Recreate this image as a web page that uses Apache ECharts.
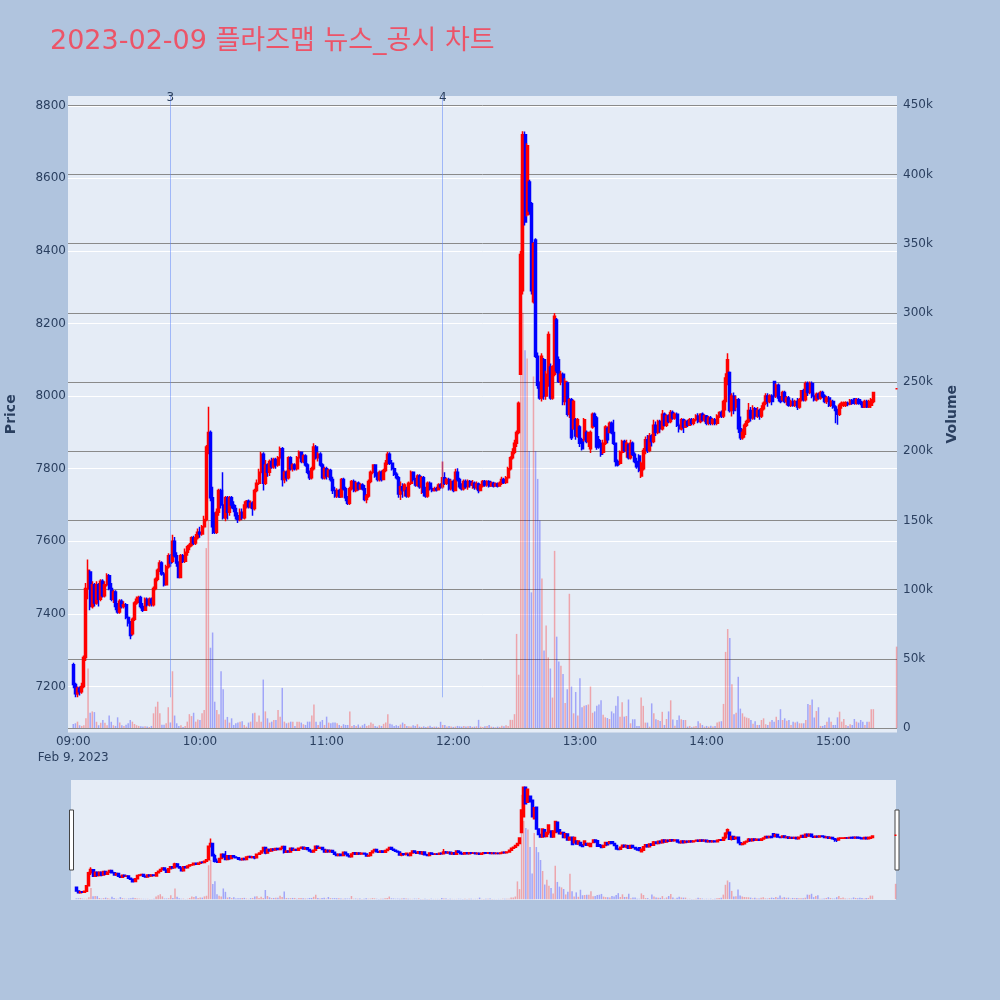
<!DOCTYPE html>
<html><head><meta charset="utf-8">
<script src="https://cdn.jsdelivr.net/npm/echarts@6/dist/echarts.min.js"></script>
<style>html,body{margin:0;padding:0;background:#B0C4DE}#c{width:1000px;height:1000px}</style>
</head><body><div id="c"></div><script>
const chartTitle = '2023-02-09 플라즈맵 뉴스_공시 차트';
const dateLabel = 'Feb 9, 2023';
// one-minute candles 09:00..15:19 and the 15:30 closing auction
const times = [];
for (let i = 0; i < 380; i++) { const t = 540 + i; times.push(String(Math.floor(t / 60)).padStart(2, '0') + ':' + String(t % 60).padStart(2, '0')); }
times.push('15:30');

const opens = [
7260,7205,7180,7195,7185,7200,7280,7470,7515,7420,
7480,7430,7480,7440,7490,7450,7480,7505,7470,7440,
7460,7420,7405,7435,7420,7425,7390,7375,7345,7385,
7430,7440,7445,7420,7410,7440,7425,7440,7425,7470,
7495,7520,7540,7510,7480,7530,7560,7545,7600,7560,
7540,7500,7560,7545,7570,7585,7590,7610,7595,7610,
7625,7620,7640,7660,7860,7900,7720,7640,7625,7680,
7740,7700,7665,7720,7680,7720,7700,7690,7670,7660,
7680,7665,7700,7710,7695,7705,7690,7740,7760,7790,
7840,7760,7810,7790,7820,7805,7825,7810,7830,7855,
7770,7790,7775,7830,7800,7810,7800,7830,7845,7820,
7835,7810,7790,7775,7800,7860,7830,7840,7810,7775,
7800,7780,7795,7770,7740,7725,7740,7722,7770,7745,
7720,7705,7745,7765,7740,7760,7745,7755,7745,7715,
7725,7765,7790,7810,7780,7770,7790,7770,7795,7815,
7840,7815,7800,7785,7775,7730,7750,7740,7740,7725,
7760,7790,7770,7755,7780,7750,7775,7735,7725,7760,
7745,7740,7745,7742,7755,7750,7775,7760,7770,7745,
7765,7740,7790,7770,7750,7745,7765,7750,7765,7755,
7760,7748,7758,7740,7752,7765,7755,7765,7752,7760,
7752,7758,7752,7760,7770,7762,7775,7800,7830,7845,
7870,7900,8060,8290,8720,8500,8590,8530,8260,8430,
8110,8030,7995,8100,8000,8060,8080,7995,8060,8210,
8100,8040,8060,7985,8036,7950,7990,7910,7935,7890,
7915,7880,7880,7900,7875,7855,7915,7950,7940,7880,
7870,7845,7870,7910,7900,7925,7900,7870,7820,7815,
7845,7875,7850,7865,7830,7870,7840,7820,7835,7780,
7800,7850,7880,7850,7890,7875,7920,7900,7930,7910,
7950,7920,7945,7930,7955,7940,7950,7920,7910,7935,
7915,7930,7920,7935,7925,7935,7945,7930,7950,7935,
7945,7925,7940,7925,7935,7925,7945,7955,7945,7985,
8050,8065,7960,8000,7970,7990,7910,7885,7895,7920,
7930,7960,7940,7965,7945,7960,7945,7965,7980,8000,
7985,8000,8040,8000,8030,7995,7990,8010,7985,7995,
7975,7985,7975,7985,7970,7990,8015,7990,8035,8010,
8035,8000,7990,8005,7995,8010,8000,7985,7995,7975,
7985,7970,7960,7950,7975,7975,7975,7980,7978,7988,
7992,7980,7990,7985,7980,7970,7985,7970,7975,7985,
8020];
const highs = [
7265,7210,7200,7200,7210,7285,7485,7550,7520,7490,
7485,7490,7485,7495,7495,7490,7512,7510,7485,7466,
7465,7430,7440,7440,7435,7430,7395,7380,7390,7435,
7448,7450,7450,7430,7445,7445,7445,7445,7475,7500,
7525,7548,7545,7515,7535,7567,7565,7618,7612,7570,
7545,7565,7565,7580,7590,7595,7614,7615,7620,7635,
7640,7645,7670,7865,7971,7905,7750,7680,7690,7745,
7745,7790,7725,7725,7725,7725,7710,7700,7680,7690,
7690,7710,7714,7715,7712,7710,7745,7770,7800,7847,
7845,7824,7815,7825,7830,7830,7830,7835,7861,7860,
7795,7795,7834,7834,7815,7815,7835,7850,7847,7840,
7840,7815,7795,7805,7870,7865,7845,7845,7815,7805,
7805,7800,7800,7778,7750,7746,7745,7774,7775,7750,
7725,7750,7769,7770,7765,7765,7760,7760,7755,7730,
7770,7795,7812,7812,7790,7795,7795,7800,7824,7847,
7845,7824,7805,7790,7780,7765,7760,7760,7750,7765,
7795,7792,7775,7785,7785,7780,7780,7750,7765,7765,
7751,7750,7750,7760,7760,7820,7790,7775,7775,7770,
7770,7800,7801,7775,7760,7770,7770,7770,7769,7769,
7765,7765,7762,7758,7769,7769,7768,7768,7765,7764,
7762,7762,7765,7778,7775,7780,7805,7834,7856,7880,
7905,7985,8400,8730,8729,8697,8596,8535,8425,8435,
8120,8040,8118,8105,8070,8178,8090,8085,8229,8215,
8109,8070,8065,8049,8040,7995,7995,7990,7940,7940,
7920,7885,7940,7905,7902,7905,7955,7955,7945,7890,
7879,7880,7920,7916,7930,7930,7935,7872,7825,7850,
7880,7880,7880,7870,7880,7875,7845,7830,7840,7820,
7857,7889,7893,7898,7895,7935,7930,7935,7935,7962,
7955,7950,7950,7962,7960,7955,7955,7925,7940,7938,
7935,7935,7940,7940,7940,7950,7953,7953,7955,7950,
7948,7945,7945,7940,7940,7950,7958,7960,7990,8063,
8118,8068,8008,8010,8000,7995,7944,7910,7925,7935,
7981,7970,7975,7970,7970,7965,7975,7985,8008,8008,
8005,8005,8040,8035,8035,8000,8015,8015,8000,8000,
7990,7994,7990,7995,7995,8017,8020,8040,8040,8040,
8040,8010,8010,8010,8015,8015,8005,8000,8000,7990,
7990,7975,7965,7980,7985,7985,7986,7985,7992,7992,
7995,7995,7995,7992,7985,7990,7990,7990,7995,8010,
8020];
const lows = [
7195,7170,7170,7175,7180,7195,7270,7440,7410,7415,
7420,7425,7420,7435,7445,7445,7475,7465,7435,7430,
7410,7400,7400,7415,7415,7385,7365,7330,7340,7380,
7425,7430,7415,7405,7408,7420,7420,7420,7420,7465,
7490,7515,7505,7475,7478,7525,7530,7540,7555,7530,
7498,7498,7540,7540,7560,7575,7585,7590,7590,7605,
7610,7615,7635,7655,7840,7710,7620,7620,7620,7670,
7690,7660,7655,7660,7670,7690,7680,7660,7650,7655,
7660,7660,7690,7690,7690,7670,7685,7735,7755,7785,
7740,7755,7778,7780,7800,7800,7800,7805,7825,7751,
7760,7765,7770,7795,7792,7795,7795,7825,7815,7815,
7805,7785,7769,7770,7795,7825,7820,7805,7770,7770,
7770,7775,7765,7730,7720,7719,7719,7720,7740,7710,
7700,7700,7740,7735,7735,7740,7742,7740,7710,7705,
7720,7760,7785,7775,7765,7765,7765,7768,7790,7810,
7810,7795,7780,7770,7720,7714,7720,7723,7720,7720,
7755,7765,7750,7750,7745,7730,7723,7720,7720,7740,
7735,7737,7737,7740,7745,7745,7755,7755,7740,7740,
7735,7738,7765,7745,7740,7740,7745,7742,7748,7745,
7742,7742,7732,7738,7748,7750,7750,7748,7750,7748,
7750,7748,7750,7755,7758,7758,7770,7795,7825,7840,
7860,7895,8060,8280,8470,8495,8500,8280,8255,8105,
8020,7990,7985,7990,7990,8026,7990,7990,8055,8063,
8036,8030,7975,7975,7944,7940,7879,7907,7880,7885,
7860,7850,7875,7870,7860,7843,7910,7915,7852,7855,
7833,7840,7865,7870,7898,7895,7865,7806,7806,7810,
7840,7845,7830,7825,7825,7835,7815,7800,7790,7774,
7795,7840,7843,7845,7861,7870,7890,7895,7900,7905,
7916,7915,7925,7925,7935,7935,7915,7900,7905,7898,
7912,7915,7918,7920,7920,7930,7925,7925,7930,7928,
7920,7920,7920,7920,7920,7920,7940,7940,7940,7960,
8030,7955,7944,7950,7960,7898,7879,7880,7885,7915,
7926,7930,7935,7935,7940,7935,7940,7960,7975,7971,
7980,7975,7995,7995,7985,7980,7985,7980,7975,7971,
7970,7971,7970,7962,7965,7985,7985,7985,8000,8005,
7994,7985,7985,7990,7990,7995,7980,7978,7970,7970,
7965,7925,7921,7945,7965,7970,7970,7972,7975,7976,
7976,7976,7976,7975,7967,7967,7967,7967,7967,7980,
8020];
const closes = [
7205,7180,7195,7185,7200,7280,7470,7520,7420,7480,
7430,7480,7440,7490,7450,7480,7505,7470,7440,7460,
7420,7405,7435,7420,7425,7390,7375,7340,7385,7430,
7440,7445,7420,7410,7440,7425,7440,7430,7470,7495,
7520,7540,7510,7480,7530,7560,7540,7600,7560,7540,
7500,7560,7545,7570,7585,7590,7610,7595,7610,7625,
7620,7640,7660,7860,7900,7720,7640,7625,7680,7740,
7700,7665,7720,7680,7720,7700,7690,7670,7660,7680,
7665,7700,7710,7695,7705,7690,7740,7760,7790,7840,
7760,7810,7790,7820,7805,7825,7810,7830,7855,7770,
7790,7775,7830,7800,7810,7800,7830,7845,7820,7835,
7810,7790,7775,7800,7860,7830,7840,7810,7775,7800,
7780,7795,7770,7740,7725,7740,7722,7770,7745,7720,
7705,7745,7765,7740,7760,7745,7755,7745,7715,7725,
7765,7790,7810,7780,7770,7790,7770,7795,7815,7840,
7815,7800,7785,7775,7730,7750,7740,7755,7725,7760,
7790,7770,7755,7780,7750,7775,7735,7725,7760,7745,
7740,7745,7742,7755,7750,7775,7760,7770,7745,7765,
7740,7790,7770,7750,7745,7765,7750,7765,7755,7760,
7748,7758,7740,7752,7765,7755,7765,7752,7760,7752,
7758,7752,7760,7770,7762,7775,7800,7830,7845,7870,
7900,7980,8390,8720,8480,8690,8510,8290,8420,8110,
8030,7995,8110,8000,8060,8170,7995,8080,8220,8070,
8040,8060,7985,8040,7950,7990,7885,7985,7890,7935,
7870,7855,7935,7875,7900,7900,7950,7920,7860,7860,
7840,7870,7915,7880,7925,7900,7870,7820,7810,7845,
7875,7850,7870,7830,7870,7840,7820,7805,7795,7815,
7850,7880,7850,7890,7875,7920,7900,7930,7910,7950,
7920,7945,7930,7955,7940,7950,7920,7910,7935,7915,
7930,7920,7935,7925,7935,7945,7930,7950,7935,7945,
7925,7940,7925,7935,7925,7945,7955,7945,7985,8050,
8100,7960,8000,7960,7990,7910,7885,7900,7920,7930,
7960,7940,7965,7945,7960,7945,7965,7980,8000,7985,
8000,7985,8000,8030,7995,7985,8010,7985,7995,7975,
7985,7975,7985,7970,7990,8015,7990,8035,8010,8035,
8000,7990,8005,7995,8010,8000,7985,7995,7975,7985,
7970,7960,7950,7975,7980,7980,7982,7978,7988,7980,
7980,7990,7980,7980,7970,7985,7970,7985,7990,8010,
8020];
// volume in thousands of shares
const volumesK = [
2.9,3.4,4.6,2,1.5,2,7,43,11,12,
11.5,4.5,2,3.8,5.8,3.8,2,9,4.5,2,
1.5,7.7,4,2,1.5,2.4,3.4,5.8,4.6,2.9,
2,1.5,1.2,1,1.2,1,0.7,1.5,10.6,15.4,
19,10.6,2.4,2.4,3.4,15,4,41,9,3.4,
1.5,2,0.7,1.5,4.6,10,8.6,11,4.6,6.2,
5.8,10.6,13,130,150,58,69,19,13,10,
41,28,6,8,3.9,7,2.2,3.4,3.9,4.6,
4.9,2.2,1,3.9,4.6,10.6,11,4.6,9,4.6,
35,12,7,3.9,4.6,5.8,5.8,13,8.2,29,
4.6,3.4,3.9,4.6,4.6,1.5,4.6,4.6,3.9,2.7,
2.2,4.6,4.6,9,17,4.6,2.2,4.6,5.8,2.2,
8.2,3.9,3.4,3.9,3.9,3.4,2.2,1.5,2.7,2.2,
2.2,12,1.5,2.2,1.5,2.5,1,2,3,1.5,
2,4,3,1.5,1,2,1.5,3,4,10,
3,2.5,1.5,2,1.5,2.5,3.9,2.9,1.5,1.2,
1,2,1.5,2.7,1,0.8,1.2,0.7,1,1.7,
0.8,1,1,0.6,4.5,2.2,2.2,1,1.5,1,
0.8,1,1.5,1.2,1,1.5,1,1.2,1.5,0.8,
1,1.2,5.9,1,0.8,1.2,1.5,2.2,1,0.8,
0.5,1,0.8,1.7,1.2,2,1.5,5.9,5.9,10,
68,38.5,400,300,273,267,200,98,254,200,
180,150,108,56,74,51,43,22,128,66,
48,45,39,18,28,97,30,10.6,26,9,
36,15,16,16.5,17,30,11,12,16,17,
20,9.6,7.7,7.2,6.5,12,10.6,16,23,8.2,
18.6,8.2,8.7,20.6,3.4,6.3,6.3,1.5,1.5,22,
16,3.9,3.9,1,17.8,10.6,6.3,5.8,5.1,11.7,
2.2,6.5,12,20,6.2,1.7,5.8,9,6.3,5.8,
5.8,1,1.5,0.5,1,1.5,4.9,3.4,2.2,1,
1.5,1,1.7,1,1.5,3.9,4.6,4.9,17.4,55,
71.5,65,31.6,10,11,37,14,10.6,8.2,7.5,
7,5.8,3,4.9,2.2,2.2,5.8,7,2.7,2.2,
4.6,5.8,4.6,8.2,5.8,13.6,5.8,7,5.3,5.8,
2.2,4.6,3.9,4.6,3.4,3.4,3.4,5.8,17.4,16.6,
20.6,7.5,12.3,15,1.5,1.5,2.2,4.6,7.5,4.6,
2.2,2.2,7.7,11.8,4.6,6.5,2.2,1.5,2.7,2.2,
6.5,4.6,3.9,5.8,4.6,2.2,4.6,4.6,13.6,13.6,
58.8];
const newsTimes = ['09:46', '11:55'];
const newsLabels = ['3', '4'];
const timeTicks = ['09:00','10:00','11:00','12:00','13:00','14:00','15:00'];
const priceTicks = [7200,7400,7600,7800,8000,8200,8400,8600,8800];
const volumeTicks = [0,50000,100000,150000,200000,250000,300000,350000,400000,450000];

const FONT = "'DejaVu Sans', 'Noto Sans CJK KR', sans-serif";
const AXIS_COLOR = '#2a3f5f';
const UP = '#FF0000', DOWN = '#0000FF';
const UP_VOL = 'rgba(255,0,0,0.3)', DOWN_VOL = 'rgba(0,0,255,0.3)';
const X_MIN = -2.5, X_MAX = 390.2;
const P_MIN = 7073, P_MAX = 8827;
const V_MIN = -3250, V_MAX = 456700;

const toMin = s => { const p = s.split(':').map(Number); return p[0] * 60 + p[1] - 540; };
const xs = times.map(toMin);
const candleData = xs.map((x, i) => [x, opens[i], closes[i], lows[i], highs[i]]);
const volData = xs.map((x, i) => ({ value: [x, volumesK[i] * 1000], itemStyle: { color: closes[i] >= opens[i] ? UP_VOL : DOWN_VOL } }));
const fmtTime = v => { const t = 540 + v; return String(Math.floor(t / 60)).padStart(2, '0') + ':' + String(t % 60).padStart(2, '0'); };

const candleStyle = { color: UP, color0: DOWN, borderColor: UP, borderColor0: DOWN, borderWidth: 1.5 };

const chart = echarts.init(document.getElementById('c'), null, { renderer: 'canvas' });
chart.setOption({
  backgroundColor: '#B0C4DE',
  animation: false,
  title: { text: chartTitle, left: 50, top: 28, padding: 0, textStyle: { color: '#EC5468', fontSize: 27, fontWeight: 'normal', fontFamily: FONT } },
  grid: [
    { left: 68, top: 96, width: 829, height: 636.5, show: true, backgroundColor: '#E5ECF6', borderWidth: 0, containLabel: false, outerBoundsMode: 'none' },
    { left: 71, top: 780, width: 825, height: 120, show: true, backgroundColor: '#E5ECF6', borderWidth: 0, containLabel: false, outerBoundsMode: 'none' }
  ],
  xAxis: [
    { type: 'value', gridIndex: 0, min: X_MIN, max: X_MAX,
      axisLine: { show: false }, axisTick: { show: false, customValues: timeTicks.map(toMin) }, splitLine: { show: false },
      axisLabel: { customValues: timeTicks.map(toMin), color: AXIS_COLOR, fontSize: 12, fontFamily: FONT, margin: 1, lineHeight: 16,
        formatter: v => v === 0 ? fmtTime(v) + '\n' + dateLabel : fmtTime(v) } },
    { type: 'value', gridIndex: 1, min: X_MIN, max: X_MAX, show: false, splitLine: { show: false } }
  ],
  yAxis: [
    { type: 'value', gridIndex: 0, position: 'left', min: P_MIN, max: P_MAX,
      name: 'Price', nameLocation: 'middle', nameGap: 50, nameTextStyle: { color: AXIS_COLOR, fontSize: 14, fontWeight: 'bold', fontFamily: FONT },
      axisLine: { show: false }, axisTick: { show: false, customValues: priceTicks },
      axisLabel: { customValues: priceTicks, color: AXIS_COLOR, fontSize: 12, fontFamily: FONT, margin: 2, formatter: v => String(v) },
      splitLine: { show: true, lineStyle: { color: '#FFFFFF', width: 1 } } },
    { type: 'value', gridIndex: 0, position: 'right', min: V_MIN, max: V_MAX,
      name: 'Volume', nameLocation: 'middle', nameGap: 48, nameTextStyle: { color: AXIS_COLOR, fontSize: 14, fontWeight: 'bold', fontFamily: FONT },
      axisLine: { show: false }, axisTick: { show: false, customValues: volumeTicks },
      axisLabel: { customValues: volumeTicks, color: AXIS_COLOR, fontSize: 12, fontFamily: FONT, margin: 6,
        formatter: v => v === 0 ? '0' : (v / 1000) + 'k' },
      splitLine: { show: true, lineStyle: { color: '#8a8a8a', width: 1 } } },
    { type: 'value', gridIndex: 1, min: P_MIN, max: P_MAX, show: false, splitLine: { show: false } },
    { type: 'value', gridIndex: 1, min: V_MIN, max: V_MAX, show: false, splitLine: { show: false } }
  ],
  series: [
    { type: 'bar', xAxisIndex: 0, yAxisIndex: 1, data: volData, barWidth: 1.5, silent: true },
    { type: 'candlestick', xAxisIndex: 0, yAxisIndex: 0, data: candleData, encode: { x: 0, y: [1, 2, 3, 4] },
      barWidth: 2.5, itemStyle: candleStyle, silent: true,
      markLine: { silent: true, symbol: 'none',
        lineStyle: { color: 'rgba(90,130,250,0.5)', width: 1, type: 'solid' },
        label: { show: true, position: 'end', formatter: '{b}', color: AXIS_COLOR, fontSize: 12, fontFamily: FONT, distance: -8 },
        data: newsTimes.map((t, i) => [{ name: newsLabels[i], coord: [toMin(t), 7170] }, { coord: [toMin(t), P_MAX] }]) } },
    { type: 'bar', xAxisIndex: 1, yAxisIndex: 3, data: volData, barWidth: 1.5, silent: true },
    { type: 'candlestick', xAxisIndex: 1, yAxisIndex: 2, data: candleData, encode: { x: 0, y: [1, 2, 3, 4] },
      barWidth: 2.5, itemStyle: candleStyle, silent: true }
  ],
  graphic: [
    { type: 'rect', shape: { x: 69.5, y: 810, width: 4, height: 60 }, style: { fill: '#FFFFFF', stroke: '#444444', lineWidth: 1 } },
    { type: 'rect', shape: { x: 895, y: 810, width: 4, height: 60 }, style: { fill: '#FFFFFF', stroke: '#444444', lineWidth: 1 } }
  ]
});
</script></body></html>
